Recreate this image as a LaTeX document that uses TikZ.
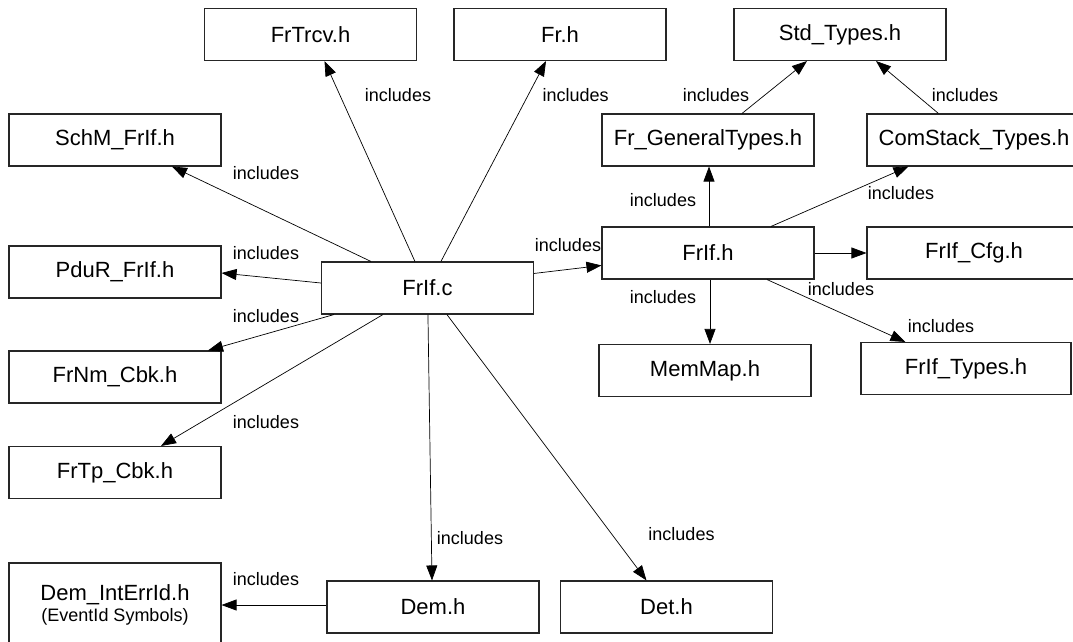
\documentclass[tikz,border=0pt]{standalone}
\usepackage{fontspec}
\setmainfont{Liberation Sans}
\usetikzlibrary{arrows.meta,calc}
\begin{document}
\begin{tikzpicture}[x=1pt,y=-1pt,
  filebox/.style={draw=black!85,line width=1.1pt,rectangle,minimum width=212pt,minimum height=52pt,inner sep=0pt,font=\fontsize{22}{24}\selectfont},
  inc/.style={font=\fontsize{18}{20}\selectfont,inner sep=0pt,text=black},
  dep/.style={draw=black,line width=0.7pt,-{Triangle[length=15pt,width=11pt]}}]
\useasboundingbox (0,0) rectangle (1073,642);
% nodes
\node[filebox] (trcv) at (310.5,34.5) {FrTrcv.h};
\node[filebox] (fr) at (560,34.5) {Fr.h};
\node[filebox] (std) at (840,34.5) {Std\_Types.h};
\node[filebox] (schm) at (115,140) {SchM\_FrIf.h};
\node[filebox] (gen) at (708,140) {Fr\_GeneralTypes.h};
\node[filebox,minimum width=214pt] (com) at (974,140) {ComStack\_Types.h};
\node[filebox] (pdur) at (115,272) {PduR\_FrIf.h};
\node[filebox] (frifc) at (427.5,288) {FrIf.c};
\node[filebox] (frifh) at (708,253) {FrIf.h};
\node[filebox,minimum width=214pt] (cfg) at (974,253) {FrIf\_Cfg.h};
\node[filebox] (frnm) at (115,377) {FrNm\_Cbk.h};
\node[filebox] (frtp) at (115,472.5) {FrTp\_Cbk.h};
\node[filebox] (mem) at (705,370.5) {MemMap.h};
\node[filebox,minimum width=210pt] (ftypes) at (966,368.5) {FrIf\_Types.h};
\node[filebox,minimum height=84pt,align=center] (demint) at (115,605) {Dem\_IntErrId.h\\[-3pt]{\fontsize{18}{20}\selectfont (EventId Symbols)}};
\node[filebox] (dem) at (433,607) {Dem.h};
\node[filebox] (det) at (666.5,607) {Det.h};
% connectors from FrIf.c
\draw[dep] ([xshift=94pt]frifc.north west) -- ([xshift=14pt]trcv.south);
\draw[dep] ([xshift=120pt]frifc.north west) -- ([xshift=-14pt]fr.south);
\draw[dep] ([xshift=50pt]frifc.north west) -- ([xshift=57pt]schm.south);
\draw[dep] ([yshift=5pt]frifc.west) -- ([yshift=-1pt]pdur.east);
\draw[dep] ([xshift=13pt]frifc.south west) -- ([xshift=93pt]frnm.north);
\draw[dep] ([xshift=62pt]frifc.south west) -- ([xshift=46pt]frtp.north);
\draw[dep] ([xshift=107pt]frifc.south west) -- ([xshift=-1pt]dem.north);
\draw[dep] ([xshift=126pt]frifc.south west) -- ([xshift=-20pt]det.north);
\draw[dep] ([yshift=-12pt]frifc.north east) -- ([yshift=-39pt]frifh.north west);
% connectors from FrIf.h
\draw[dep] ([xshift=1pt]frifh.north) -- ([xshift=1pt]gen.south);
\draw[dep] ([xshift=63pt]frifh.north) -- ([xshift=42pt]com.south west);
\draw[dep] (frifh.east) -- (cfg.west);
\draw[dep] ([xshift=2pt]frifh.south) -- ([xshift=5pt]mem.north);
\draw[dep] ([xshift=59pt]frifh.south) -- ([xshift=45pt]ftypes.north west);
\draw[dep] ([xshift=34pt]gen.north) -- ([xshift=-33pt]std.south);
\draw[dep] ([xshift=72pt]com.north west) -- ([xshift=36pt]std.south);
\draw[dep] (dem.west |- demint.east) -- (demint.east);
% labels
\node[inc] (l1) at (398,95) {includes};
\node[inc] (l2) at (575.6,95) {includes};
\node[inc] (l3) at (716,95) {includes};
\node[inc] (l4) at (965,95) {includes};
\node[inc] (l5) at (266,173) {includes};
\node[inc] (l6) at (266,253) {includes};
\node[inc] (l7) at (266,316) {includes};
\node[inc] (l8) at (266,421.7) {includes};
\node[inc] (l9) at (266,579) {includes};
\node[inc] (l10) at (470,538) {includes};
\node[inc] (l11) at (681.5,534.5) {includes};
\node[inc] (l12) at (568,245) {includes};
\node[inc] (l13) at (663,200) {includes};
\node[inc] (l14) at (901,193) {includes};
\node[inc] (l15) at (663,297) {includes};
\node[inc] (l16) at (841,289) {includes};
\node[inc] (l17) at (941,326) {includes};
\end{tikzpicture}
\end{document}
